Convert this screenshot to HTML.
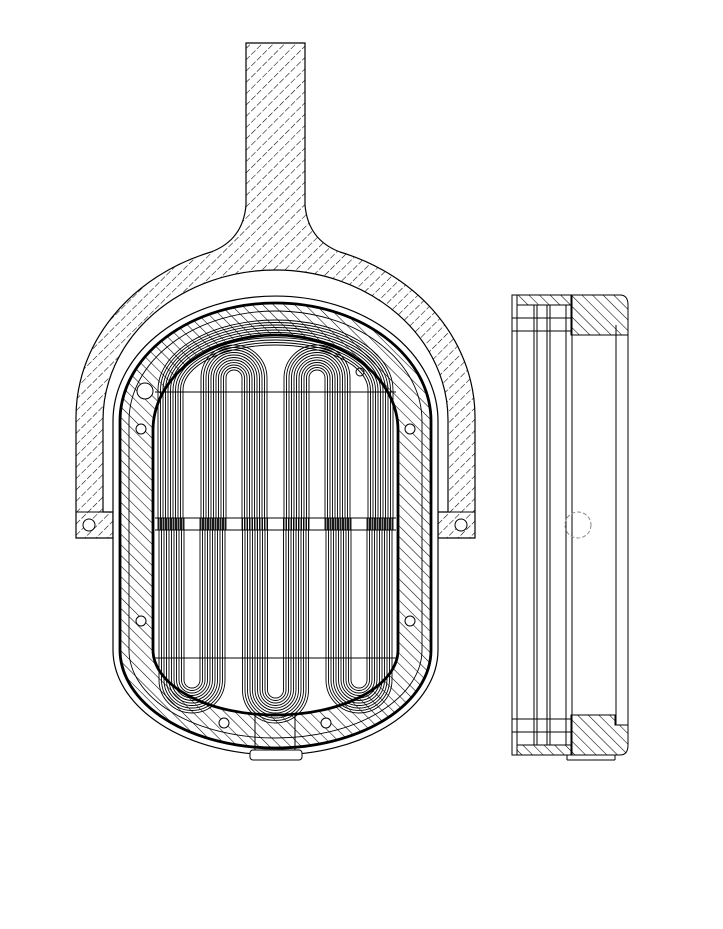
<!DOCTYPE html>
<html><head><meta charset="utf-8"><style>html,body{margin:0;padding:0;background:#fff}svg{display:block}</style></head>
<body>
<svg id="s" width="723" height="929" viewBox="0 0 723 929" xmlns="http://www.w3.org/2000/svg">
<defs>
<pattern id="h1" width="8" height="8" patternUnits="userSpaceOnUse" patternTransform="rotate(45)">
<line x1="0" y1="0" x2="0" y2="8" stroke="#000" stroke-width="1.1" stroke-dasharray="5 2"/></pattern>
<pattern id="h2" width="7.5" height="7.5" patternUnits="userSpaceOnUse" patternTransform="rotate(-45)">
<line x1="0" y1="0" x2="0" y2="7.5" stroke="#000" stroke-width="1.1"/></pattern>
</defs>
<path d="M246,43 H305 V205 Q308,240 340,252 A200,175 0 0 1 475,420 V538 H438 V512 H448 V420 A172.5,150 0 0 0 103,420 V512 H113 V538 H76 V420 A200,175 0 0 1 211,252 Q243,240 246,205 Z" fill="url(#h1)" stroke="#000" stroke-width="1.2"/>
<line x1="76" y1="512" x2="113" y2="512" stroke="#000"/><line x1="438" y1="512" x2="475" y2="512" stroke="#000"/>
<circle cx="89" cy="525" r="6" fill="#fff" stroke="#000"/><circle cx="461" cy="525" r="6" fill="#fff" stroke="#000"/>
<path d="M113,421 A162.5,125 0 0 1 438,421 V650 A162.5,105 0 0 1 113,650 Z" fill="#fff" stroke="#000" stroke-width="1.2"/>
<path d="M120,421 A155.5,118 0 0 1 431,421 V650 A155.5,98 0 0 1 120,650 Z M153,430 A122.5,95 0 0 1 398,430 V650 A122.5,65 0 0 1 153,650 Z" fill="url(#h2)" fill-rule="evenodd" stroke="#000" stroke-width="2.8"/>
<path d="M129,421 A146.5,110 0 0 1 422,421 V650 A146.5,88 0 0 1 129,650 Z" fill="none" stroke="#000" stroke-width="0.9"/>
<g fill="#fff" stroke="#000"><circle cx="145" cy="391" r="8"/><circle cx="141" cy="429" r="5"/><circle cx="410" cy="429" r="5"/><circle cx="141" cy="621" r="5"/><circle cx="410" cy="621" r="5"/><circle cx="224" cy="723" r="5"/><circle cx="326" cy="723" r="5"/><circle cx="360" cy="372" r="4"/></g>
<rect x="255" y="715" width="40" height="40" fill="none" stroke="#000"/>
<rect x="250" y="750" width="52" height="10" rx="3" fill="#fff" stroke="#000"/>
<g id="coil" fill="none" stroke="#000" stroke-width="0.9"></g>
<g fill="none" stroke="#000" stroke-width="1">
<path d="M571,295 H620 Q628,295 628,305 V335 H571 Z" fill="url(#h2)"/>
<path d="M571,715 H615 V725 H628 V745 Q628,755 620,755 H571 Z" fill="url(#h2)"/>
<rect x="517" y="745" width="54" height="10" fill="url(#h2)"/>
<rect x="517" y="295" width="54" height="10" fill="url(#h2)"/>
<rect x="512" y="295" width="60" height="460"/>
<line x1="517" y1="295" x2="517" y2="755"/>
<line x1="534" y1="305" x2="534" y2="745"/><line x1="537" y1="305" x2="537" y2="745"/>
<line x1="547" y1="305" x2="547" y2="745"/><line x1="550" y1="305" x2="550" y2="745"/>
<line x1="566" y1="305" x2="566" y2="745"/>
<line x1="512" y1="318" x2="572" y2="318"/><line x1="512" y1="331" x2="572" y2="331"/>
<line x1="512" y1="719" x2="572" y2="719"/><line x1="512" y1="732" x2="572" y2="732"/>
<line x1="616" y1="325" x2="616" y2="725"/><line x1="628" y1="325" x2="628" y2="725"/>
<line x1="567" y1="755" x2="567" y2="760"/><line x1="567" y1="760" x2="615" y2="760"/><line x1="615" y1="755" x2="615" y2="760"/>
<circle cx="578" cy="525" r="13" stroke="#888" stroke-dasharray="4 2"/>
</g>
</svg>
<script>
var g=document.getElementById('coil'),ns='http://www.w3.org/2000/svg',d='';
function U(cx,cy,top,yEnd){for(var r=8;r<=35;r+=2.5){d+='M'+(cx-r)+','+yEnd+' V'+cy+' A'+r+','+r+' 0 0 '+(top?1:0)+' '+(cx+r)+','+cy+' V'+yEnd+' ';}}
U(234,378,1,530);U(317,378,1,530);
U(192,680,0,518);U(275.5,690,0,518);U(359,680,0,518);
for(var i=0;i<11;i++){var rx=92.5+i*2.5,ry=45+i*2.5;d+='M'+(275.5-rx)+',530 V390 A'+rx+','+ry+' 0 0 1 '+(275.5+rx)+',390 V530 ';}
d+='M155,518 H396 M155,530 H396 M155,392 H396 M155,658 H396';
var p=document.createElementNS(ns,'path');p.setAttribute('d',d);g.appendChild(p);
</script>
</body></html>
